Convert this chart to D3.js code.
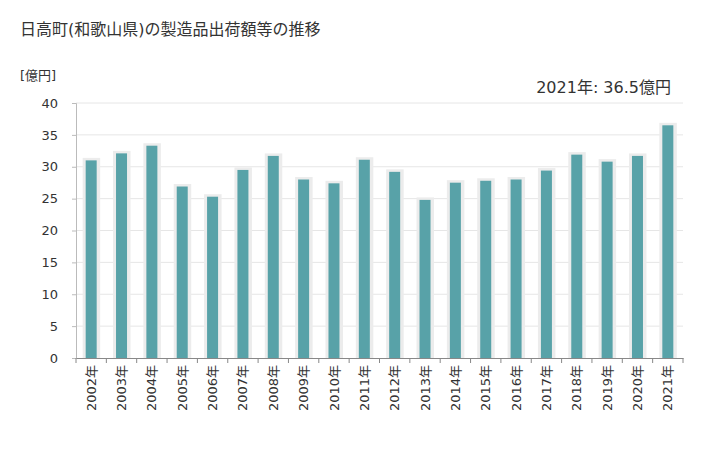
<!DOCTYPE html>
<html>
<head>
<meta charset="utf-8">
<script src="https://cdn.jsdelivr.net/npm/d3@7"></script>
<style>
body { margin: 0; background: #fff; }
text { font-family: "DejaVu Sans", "Noto Sans CJK JP", sans-serif; fill: #333; }
</style>
</head>
<body>
<script>
var years = ["2002年","2003年","2004年","2005年","2006年","2007年","2008年","2009年","2010年","2011年",
             "2012年","2013年","2014年","2015年","2016年","2017年","2018年","2019年","2020年","2021年"];
var values = [31.0, 32.1, 33.3, 26.9, 25.3, 29.5, 31.7, 28.0, 27.4, 31.1,
              29.2, 24.8, 27.5, 27.8, 28.0, 29.4, 31.9, 30.8, 31.7, 36.5];
var yTicks = [0, 5, 10, 15, 20, 25, 30, 35, 40];

var width = 728, height = 450;
var margin = {top: 103, right: 45, bottom: 92, left: 76};

var svg = d3.select("body")
    .append("svg")
    .attr("width", width)
    .attr("height", height);

var x = d3.scaleBand()
    .domain(years)
    .range([margin.left, width - margin.right]);

var y = d3.scaleLinear()
    .domain([0, 40])
    .range([height - margin.bottom, margin.top]);

// title
svg.append("text")
    .attr("x", 20)
    .attr("y", 35)
    .style("font-size", "16px")
    .text("日高町(和歌山県)の製造品出荷額等の推移");

svg.append("text")
    .attr("x", 20)
    .attr("y", 80)
    .style("font-size", "13px")
    .text("[億円]");

svg.append("text")
    .attr("x", 671)
    .attr("y", 93)
    .attr("text-anchor", "end")
    .style("font-size", "16px")
    .text(years[years.length - 1] + ": " + values[values.length - 1] + "億円");

// grid lines
svg.append("g")
    .selectAll("line")
    .data(yTicks.filter(function(d) { return d > 0; }))
    .enter()
    .append("line")
    .attr("x1", margin.left)
    .attr("x2", width - margin.right)
    .attr("y1", function(d) { return y(d); })
    .attr("y2", function(d) { return y(d); })
    .style("stroke", "#e6e6e6")
    .style("stroke-width", 1);

// y axis
var yAxis = svg.append("g")
    .attr("transform", "translate(" + margin.left + ",0)")
    .call(d3.axisLeft(y).tickValues(yTicks).tickSize(4).tickPadding(14));
yAxis.select(".domain").style("stroke", "#bbb");
yAxis.selectAll(".tick line").style("stroke", "#bbb");
yAxis.selectAll(".tick text")
    .style("font-size", "13px")
    .style("font-family", "'DejaVu Sans', sans-serif")
    .style("fill", "#333");

var bw = 11;

// bar shadows
svg.append("g")
    .selectAll("rect")
    .data(values)
    .enter()
    .append("rect")
    .attr("x", function(d, i) { return x(years[i]) + x.bandwidth() / 2 - bw / 2 - 3; })
    .attr("y", function(d) { return y(d) - 2.5; })
    .attr("width", bw + 6.5)
    .attr("height", function(d) { return y(0) - y(d) + 2.5; })
    .style("fill", "#ececec");

// bars
svg.append("g")
    .selectAll("rect")
    .data(values)
    .enter()
    .append("rect")
    .attr("x", function(d, i) { return x(years[i]) + x.bandwidth() / 2 - bw / 2; })
    .attr("y", function(d) { return y(d); })
    .attr("width", bw)
    .attr("height", function(d) { return y(0) - y(d); })
    .style("fill", "#58a2a8");

// x axis
var xAxis = svg.append("g")
    .attr("transform", "translate(0," + y(0) + ")")
    .call(d3.axisBottom(x).tickSize(0).tickSizeOuter(0));
xAxis.select(".domain").style("stroke", "#888");
xAxis.selectAll(".tick text")
    .attr("transform", "rotate(-90)")
    .attr("text-anchor", "end")
    .attr("x", -7)
    .attr("y", 0)
    .attr("dy", "0.35em")
    .style("font-size", "13px")
    .style("fill", "#333");

// boundary ticks between categories
svg.append("g")
    .selectAll("line")
    .data(years.concat(["end"]))
    .enter()
    .append("line")
    .attr("x1", function(d, i) { return margin.left + i * x.step(); })
    .attr("x2", function(d, i) { return margin.left + i * x.step(); })
    .attr("y1", y(0))
    .attr("y2", y(0) + 5)
    .style("stroke", "#888");
</script>
</body>
</html>
